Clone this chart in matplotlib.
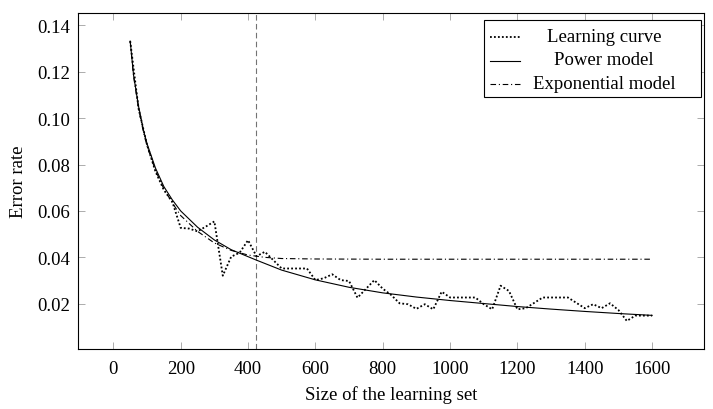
import numpy as np
import matplotlib.pyplot as plt
from matplotlib.ticker import FormatStrFormatter
from matplotlib.patches import Rectangle
from matplotlib.lines import Line2D

plt.rcParams['font.family'] = ['Liberation Serif', 'DejaVu Serif']
plt.rcParams['font.size'] = 13.5

## Data
# learning curve, one point every 25 samples
lc_size = np.arange(50, 1601, 25)
lc_error = [0.1332, 0.1040, 0.0885, 0.0770, 0.0690, 0.0640, 0.0527, 0.0524,
            0.0512, 0.0533, 0.0555, 0.0321, 0.0403, 0.0420, 0.0474, 0.0405,
            0.0424, 0.0388, 0.0352, 0.0352, 0.0352, 0.0352, 0.0302, 0.0310,
            0.0327, 0.0302, 0.0298, 0.0226, 0.0264, 0.0302, 0.0265, 0.0238,
            0.0202, 0.0198, 0.0178, 0.0198, 0.0176, 0.0252, 0.0227, 0.0227,
            0.0227, 0.0227, 0.0198, 0.0176, 0.0278, 0.0255, 0.0176, 0.0181,
            0.0204, 0.0227, 0.0227, 0.0227, 0.0227, 0.0204, 0.0181, 0.0198,
            0.0181, 0.0202, 0.0173, 0.0126, 0.0149, 0.0149, 0.0149]

# fitted models, read at a few sizes
power_size = [50, 60, 75, 90, 100, 125, 150, 175, 200, 250, 300, 350, 425,
              500, 600, 700, 800, 900, 1000, 1100, 1200, 1300, 1400, 1500, 1600]
power_error = [0.1332, 0.1185, 0.1050, 0.0945, 0.0890, 0.0785, 0.0705, 0.0648,
               0.0600, 0.0530, 0.0475, 0.0433, 0.0388, 0.0345, 0.0303, 0.0271,
               0.0247, 0.0229, 0.0214, 0.0201, 0.0188, 0.0177, 0.0167, 0.0158,
               0.0150]

expo_size = [50, 60, 75, 90, 100, 125, 150, 175, 200, 250, 300, 350, 400,
             450, 500, 600, 800, 1000, 1200, 1400, 1600]
expo_error = [0.1332, 0.1180, 0.1040, 0.0935, 0.0880, 0.0775, 0.0695, 0.0635,
              0.0580, 0.0512, 0.0462, 0.0430, 0.0410, 0.0400, 0.0395, 0.0393,
              0.0392, 0.0392, 0.0392, 0.0392, 0.0392]

split_size = 425

## Plotting
fig = plt.figure(figsize=(7.13, 4.10), dpi=100)
ax = fig.add_axes([0.1094, 0.1463, 0.8784, 0.8195])

ax.axvline(split_size, color='0.45', lw=0.8, ls=(0, (5, 3)))
ax.plot(lc_size, lc_error, color='black', lw=1.3, ls=(0, (1, 1.2)))
ax.plot(power_size, power_error, color='black', lw=0.8)
ax.plot(expo_size, expo_error, color='black', lw=0.8, ls=(0, (5, 2.5, 1, 2.5)))

ax.set_xlim(-105, 1755)
ax.set_ylim(0.0005, 0.1453)
ax.set_xticks(np.arange(0, 1601, 200))
ax.set_yticks(np.arange(0.02, 0.141, 0.02))
ax.yaxis.set_major_formatter(FormatStrFormatter('%.2f'))
ax.tick_params(direction='in', length=5, width=0.5, color='0.55',
               top=True, right=True, labelsize=13.5)
ax.tick_params(axis='x', pad=8)
ax.tick_params(axis='y', pad=6)
for s in ax.spines.values():
    s.set_linewidth(0.8)

ax.set_xlabel('Size of the learning set', fontsize=13.5, labelpad=6)
ax.set_ylabel('Error rate', fontsize=13.5, labelpad=7)

# legend, pgfplots style with centred labels
ax.add_patch(Rectangle((0.648, 0.749), 0.3463, 0.230, transform=ax.transAxes,
                       facecolor='white', edgecolor='black', lw=0.8, zorder=5))
leg_labels = ['Learning curve', 'Power model', 'Exponential model']
leg_styles = [dict(lw=1.3, ls=(0, (1, 1.2))), dict(lw=0.8, ls='-'),
              dict(lw=0.8, ls=(0, (5, 2.5, 1, 2.5)))]
leg_rows = [0.9286, 0.8586, 0.789]
for label, style, yy in zip(leg_labels, leg_styles, leg_rows):
    ax.add_line(Line2D([0.658, 0.706], [yy, yy], transform=ax.transAxes,
                       color='black', zorder=6, **style))
    ax.text(0.840, yy - 0.011, label, transform=ax.transAxes, ha='center',
            va='baseline', fontsize=13.5, zorder=6)

fig.savefig('out.png', dpi=100)
